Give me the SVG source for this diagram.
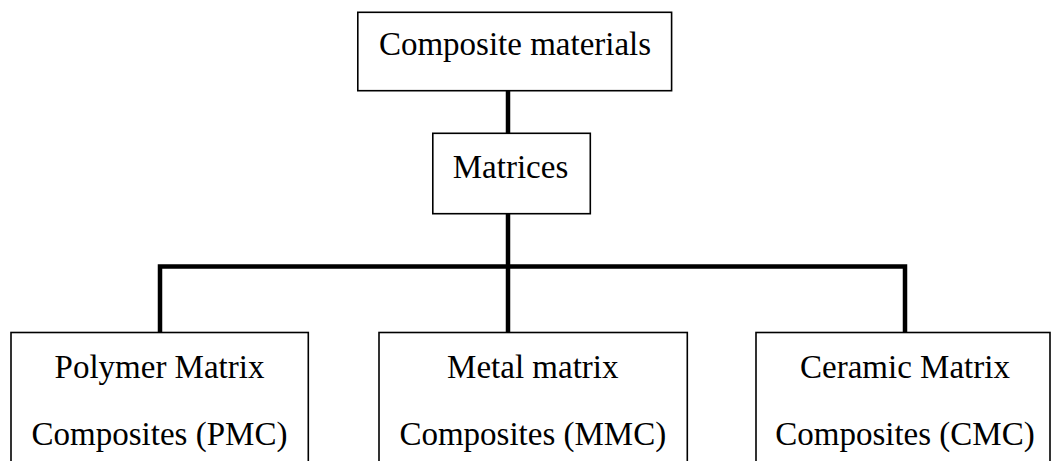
<svg xmlns="http://www.w3.org/2000/svg" width="1051" height="461" viewBox="0 0 1051 461">
  <style>
    .box { fill: #ffffff; stroke: #000000; stroke-width: 1.6; }
    .lbl { font-family: "Liberation Serif", "Times New Roman", serif; font-size: 33px; fill: #000000; text-anchor: middle; }
    .link { fill: none; stroke: #000000; stroke-width: 4.5; stroke-linejoin: miter; }
  </style>
  <rect width="1051" height="461" fill="#ffffff"/>

  <g id="connectors">
    <line class="link" x1="508" y1="90.7" x2="508" y2="133.3"/>
    <line class="link" x1="508" y1="213.7" x2="508" y2="332.5"/>
    <polyline class="link" points="160,332.5 160,266.5 905,266.5 905,332.5"/>
  </g>

  <g id="composite-materials">
    <rect class="box" x="357.8" y="12.3" width="313.8" height="78.4"/>
    <text class="lbl" x="515" y="55">Composite materials</text>
  </g>

  <g id="matrices">
    <rect class="box" x="432.8" y="133.3" width="157.5" height="80.4"/>
    <text class="lbl" x="510.5" y="178.3">Matrices</text>
  </g>

  <g id="pmc">
    <rect class="box" x="11" y="332.5" width="297.3" height="140"/>
    <text class="lbl" x="159.5" y="378">Polymer Matrix</text>
    <text class="lbl" x="159.5" y="445">Composites (PMC)</text>
  </g>

  <g id="mmc">
    <rect class="box" x="379" y="332.5" width="308.3" height="140"/>
    <text class="lbl" x="532.8" y="378">Metal matrix</text>
    <text class="lbl" x="532.8" y="445">Composites (MMC)</text>
  </g>

  <g id="cmc">
    <rect class="box" x="756" y="332.5" width="294" height="140"/>
    <text class="lbl" x="905" y="378">Ceramic Matrix</text>
    <text class="lbl" x="905" y="445">Composites (CMC)</text>
  </g>
</svg>
